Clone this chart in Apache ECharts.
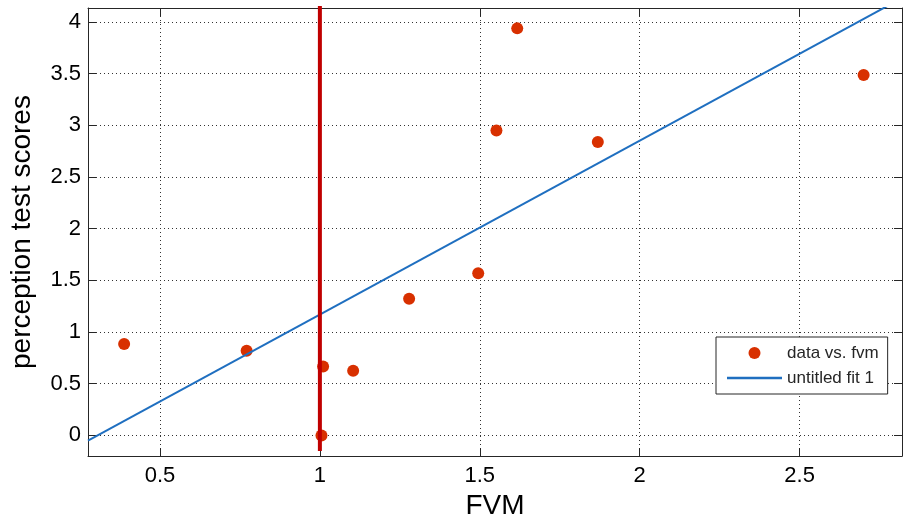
<!DOCTYPE html>
<html>
<head>
<meta charset="utf-8">
<script src="https://cdn.jsdelivr.net/npm/echarts@6/dist/echarts.min.js"></script>
<style>
html,body{margin:0;padding:0;background:#fff;}
#chart{width:903px;height:525px;}
</style>
</head>
<body>
<div id="chart"></div>
<script>
// ---- data ----
const xTicks = [0.5, 1, 1.5, 2, 2.5];
const yTicks = [0, 0.5, 1, 1.5, 2, 2.5, 3, 3.5, 4];
const fvm    = [0.388, 0.771, 1.005, 1.010, 1.104, 1.279, 1.495, 1.552, 1.617, 1.869, 2.700];
const scores = [0.883, 0.819, 0.000, 0.667, 0.626, 1.321, 1.568, 2.949, 3.936, 2.838, 3.486];
const fitX   = [0.275, 2.82];
const fitY   = [-0.051, 4.229];
const refX   = [1, 1];
const refY   = [-0.15, 4.3];
const seriesNames = ['data vs. fvm', 'untitled fit 1'];
const xName = 'FVM';
const yName = 'perception test scores';

const FONT = 'Liberation Sans, Arial, Helvetica, sans-serif';
const AX = '#262626';
const xRange = {min: 0.275, max: 2.82};
const yRange = {min: -0.2, max: 4.133};

function fmt(v){ return String(v); }

const baseAxis = (ticks) => ({
  type: 'value',
  axisLine: {show: true, onZero: false, lineStyle: {color: AX, width: 1}},
  axisTick: {show: true, inside: true, length: 8, customValues: ticks, lineStyle: {color: AX, width: 1}},
});

const chart = echarts.init(document.getElementById('chart'), null, {renderer: 'canvas'});
const option = {
  animation: false,
  backgroundColor: '#fff',
  grid: {left: 88, top: 8, right: 1, bottom: 62, containLabel: false},
  xAxis: [
    Object.assign(baseAxis(xTicks), {
      min: xRange.min, max: xRange.max, position: 'bottom',
      axisLabel: {customValues: xTicks, formatter: fmt, fontSize: 22, color: '#000', margin: 9, fontFamily: FONT},
      splitLine: {show: true, lineStyle: {type: [1, 3], color: '#333', width: 1}},
      name: xName, nameLocation: 'middle', nameGap: 34,
      nameTextStyle: {fontSize: 28, color: '#000', fontFamily: FONT}
    }),
    Object.assign(baseAxis(xTicks), {
      min: xRange.min, max: xRange.max, position: 'top',
      axisLabel: {show: false}, splitLine: {show: false}
    })
  ],
  yAxis: [
    Object.assign(baseAxis(yTicks), {
      min: yRange.min, max: yRange.max, position: 'left',
      axisLabel: {customValues: yTicks, formatter: fmt, fontSize: 22, color: '#000', margin: 7, fontFamily: FONT},
      splitLine: {show: true, lineStyle: {type: [1, 3], color: '#333', width: 1}},
      name: yName, nameLocation: 'middle', nameGap: 52,
      nameTextStyle: {fontSize: 28, color: '#000', fontFamily: FONT}
    }),
    Object.assign(baseAxis(yTicks), {
      min: yRange.min, max: yRange.max, position: 'right',
      axisLabel: {show: false}, splitLine: {show: false}
    })
  ],
  legend: {
    data: [
      {name: seriesNames[0]},
      {name: seriesNames[1], icon: 'path://M0,0L55,0L55,2.6L0,2.6Z'}
    ],
    orient: 'vertical',
    left: 716, top: 337,
    padding: [7.5, 9, 7.5, 11],
    itemWidth: 55, itemHeight: 12, itemGap: 8,
    backgroundColor: '#fff',
    borderColor: AX, borderWidth: 1, borderRadius: 0,
    textStyle: {fontSize: 17, lineHeight: 17, color: '#262626', fontFamily: FONT}
  },
  series: [
    {
      name: seriesNames[0], type: 'scatter', xAxisIndex: 0, yAxisIndex: 0,
      data: fvm.map((x, i) => [x, scores[i]]),
      symbol: 'circle', symbolSize: 12,
      itemStyle: {color: '#d83000', opacity: 1},
      z: 2
    },
    {
      name: seriesNames[1], type: 'line', xAxisIndex: 0, yAxisIndex: 0,
      data: fitX.map((x, i) => [x, fitY[i]]),
      symbol: 'none', clip: true,
      lineStyle: {color: '#1f6fc0', width: 2},
      itemStyle: {color: '#1f6fc0'},
      z: 3
    },
    {
      name: 'threshold', type: 'line', xAxisIndex: 0, yAxisIndex: 0,
      data: refX.map((x, i) => [x, refY[i]]),
      symbol: 'none', clip: true,
      lineStyle: {color: '#c00000', width: 4},
      z: 4
    }
  ]
};
chart.setOption(option);
</script>
</body>
</html>
